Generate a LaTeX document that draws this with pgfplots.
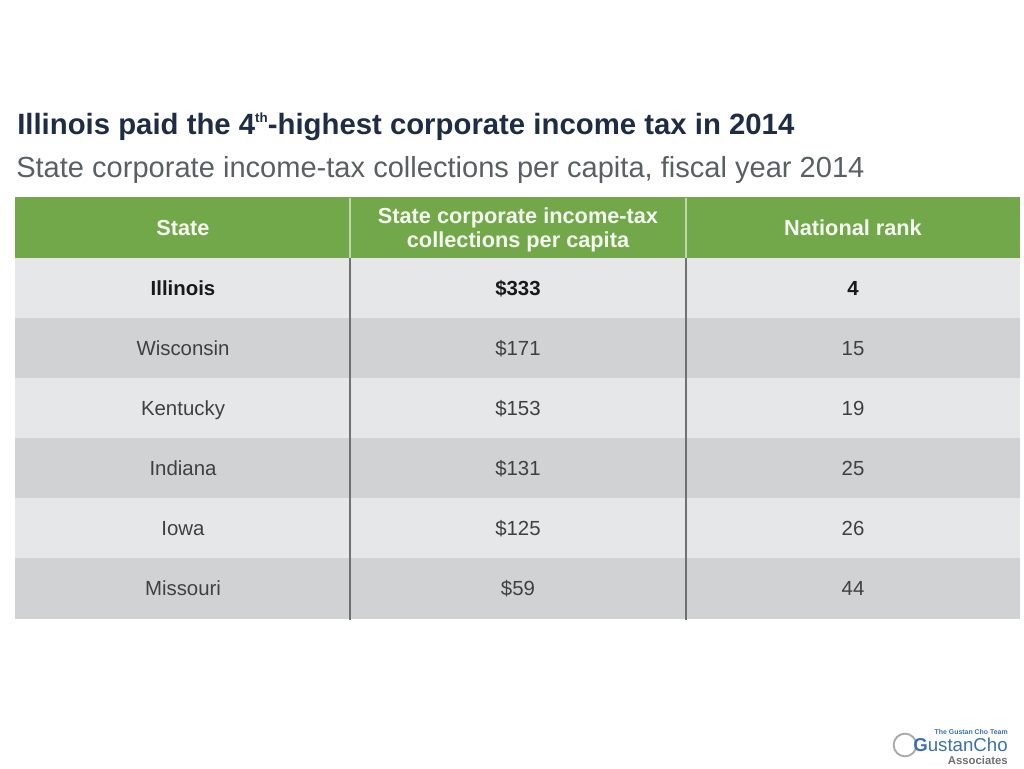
\documentclass[border=0pt]{standalone}
\usepackage{pgfplots}
\usepackage{pgfplotstable}
\pgfplotsset{compat=1.18}
\usepackage{fontspec}
\setmainfont{Liberation Sans}
\definecolor{hdrgreen}{HTML}{72A84A}
\definecolor{rowlight}{HTML}{E6E7E8}
\definecolor{rowdark}{HTML}{D1D2D4}
\definecolor{titlenavy}{HTML}{1E2D45}
\definecolor{subgray}{HTML}{5A5F63}
\definecolor{celltext}{HTML}{3F4042}
\definecolor{divgray}{HTML}{707173}
\definecolor{logoblue}{HTML}{3A6FB5}
\definecolor{logogray}{HTML}{6E7073}

\pgfplotstableread[col sep=comma]{
y,state,value,rank
348,Wisconsin,\$171,15
408,Kentucky,\$153,19
468,Indiana,\$131,25
528,Iowa,\$125,26
588,Missouri,\$59,44
}\rows
\pgfplotstableread[col sep=comma]{
y,state,value,rank
288,Illinois,\$333,4
}\toprow

\begin{document}
\begin{tikzpicture}
\begin{axis}[
  name=ax,
  scale only axis, width=768pt, height=576pt,
  xmin=0, xmax=1024, ymin=0, ymax=768, y dir=reverse,
  hide axis, clip=false,
]
% row backgrounds
\addplot[fill=hdrgreen, draw=none] coordinates {(15,197) (1020,197) (1020,258) (15,258)} -- cycle;
\addplot[fill=rowlight, draw=none] coordinates {(15,258) (1020,258) (1020,318) (15,318)} -- cycle;
\addplot[fill=rowdark, draw=none] coordinates {(15,318) (1020,318) (1020,378) (15,378)} -- cycle;
\addplot[fill=rowlight, draw=none] coordinates {(15,378) (1020,378) (1020,438) (15,438)} -- cycle;
\addplot[fill=rowdark, draw=none] coordinates {(15,438) (1020,438) (1020,498) (15,498)} -- cycle;
\addplot[fill=rowlight, draw=none] coordinates {(15,498) (1020,498) (1020,558) (15,558)} -- cycle;
\addplot[fill=rowdark, draw=none] coordinates {(15,558) (1020,558) (1020,619) (15,619)} -- cycle;
% dividers
\addplot[draw=white!55!hdrgreen, line width=0.8pt] coordinates {(350,198) (350,258)};
\addplot[draw=white!55!hdrgreen, line width=0.8pt] coordinates {(686,198) (686,258)};
\addplot[draw=divgray, line width=1.1pt] coordinates {(350,258) (350,620)};
\addplot[draw=divgray, line width=1.1pt] coordinates {(686,258) (686,620)};

% cell texts
\pgfplotsset{celltxt/.style={only marks, mark=none, nodes near coords, point meta=explicit symbolic,
  every node near coord/.append style={anchor=base, yshift=-5.6pt, inner sep=0pt, font=\fontsize{15.3}{17}\selectfont, text=celltext}}}
\addplot[celltxt] table[x expr=183, y=y, meta=state] {\rows};
\addplot[celltxt] table[x expr=518, y=y, meta=value] {\rows};
\addplot[celltxt] table[x expr=853, y=y, meta=rank] {\rows};
\pgfplotsset{boldtxt/.style={celltxt, every node near coord/.append style={font=\fontsize{15.3}{17}\selectfont\bfseries, text=black!90}}}
\addplot[boldtxt] table[x expr=183, y=y, meta=state] {\toprow};
\addplot[boldtxt] table[x expr=518, y=y, meta=value] {\toprow};
\addplot[boldtxt] table[x expr=853, y=y, meta=rank] {\toprow};

% header
\node[anchor=base, inner sep=0pt, font=\fontsize{16.3}{18}\selectfont\bfseries, text=white!92!hdrgreen] at (axis cs:183,235) {State};
\node[anchor=base, inner sep=0pt, font=\fontsize{16.3}{18}\selectfont\bfseries, text=white!92!hdrgreen] at (axis cs:518,223) {State corporate income-tax};
\node[anchor=base, inner sep=0pt, font=\fontsize{16.3}{18}\selectfont\bfseries, text=white!92!hdrgreen] at (axis cs:518,247) {collections per capita};
\node[anchor=base, inner sep=0pt, font=\fontsize{16.3}{18}\selectfont\bfseries, text=white!92!hdrgreen] at (axis cs:853,235) {National rank};

% titles
\node[anchor=base west, inner sep=0pt, font=\fontsize{22}{24}\selectfont\bfseries, text=titlenavy] at (axis cs:17,134)
 {Illinois paid the 4\raisebox{8.5pt}{\fontsize{10}{10}\selectfont th}-highest corporate income tax in 2014};
\node[anchor=base west, inner sep=0pt, font=\fontsize{21.8}{24}\selectfont, text=subgray] at (axis cs:16,177)
 {State corporate income-tax collections per capita, fiscal year 2014};

% logo
\node[anchor=base east, inner sep=0pt, font=\fontsize{5.2}{6}\selectfont\bfseries\rmfamily, text=logoblue] at (axis cs:1008,734) {The Gustan Cho Team};
\draw[logogray!60, line width=1.4pt] (axis cs:905,745) circle[radius=8.5pt];
\node[anchor=base east, inner sep=0pt, font=\fontsize{14}{15}\selectfont, text=logoblue] at (axis cs:1008,751) {\textbf{G}ustanCho};
\node[anchor=base east, inner sep=0pt, font=\fontsize{8.5}{9}\selectfont\bfseries, text=logogray] at (axis cs:1008,764) {Associates};
\end{axis}
\path[use as bounding box] (ax.south west) rectangle (ax.north east);
\end{tikzpicture}
\end{document}
